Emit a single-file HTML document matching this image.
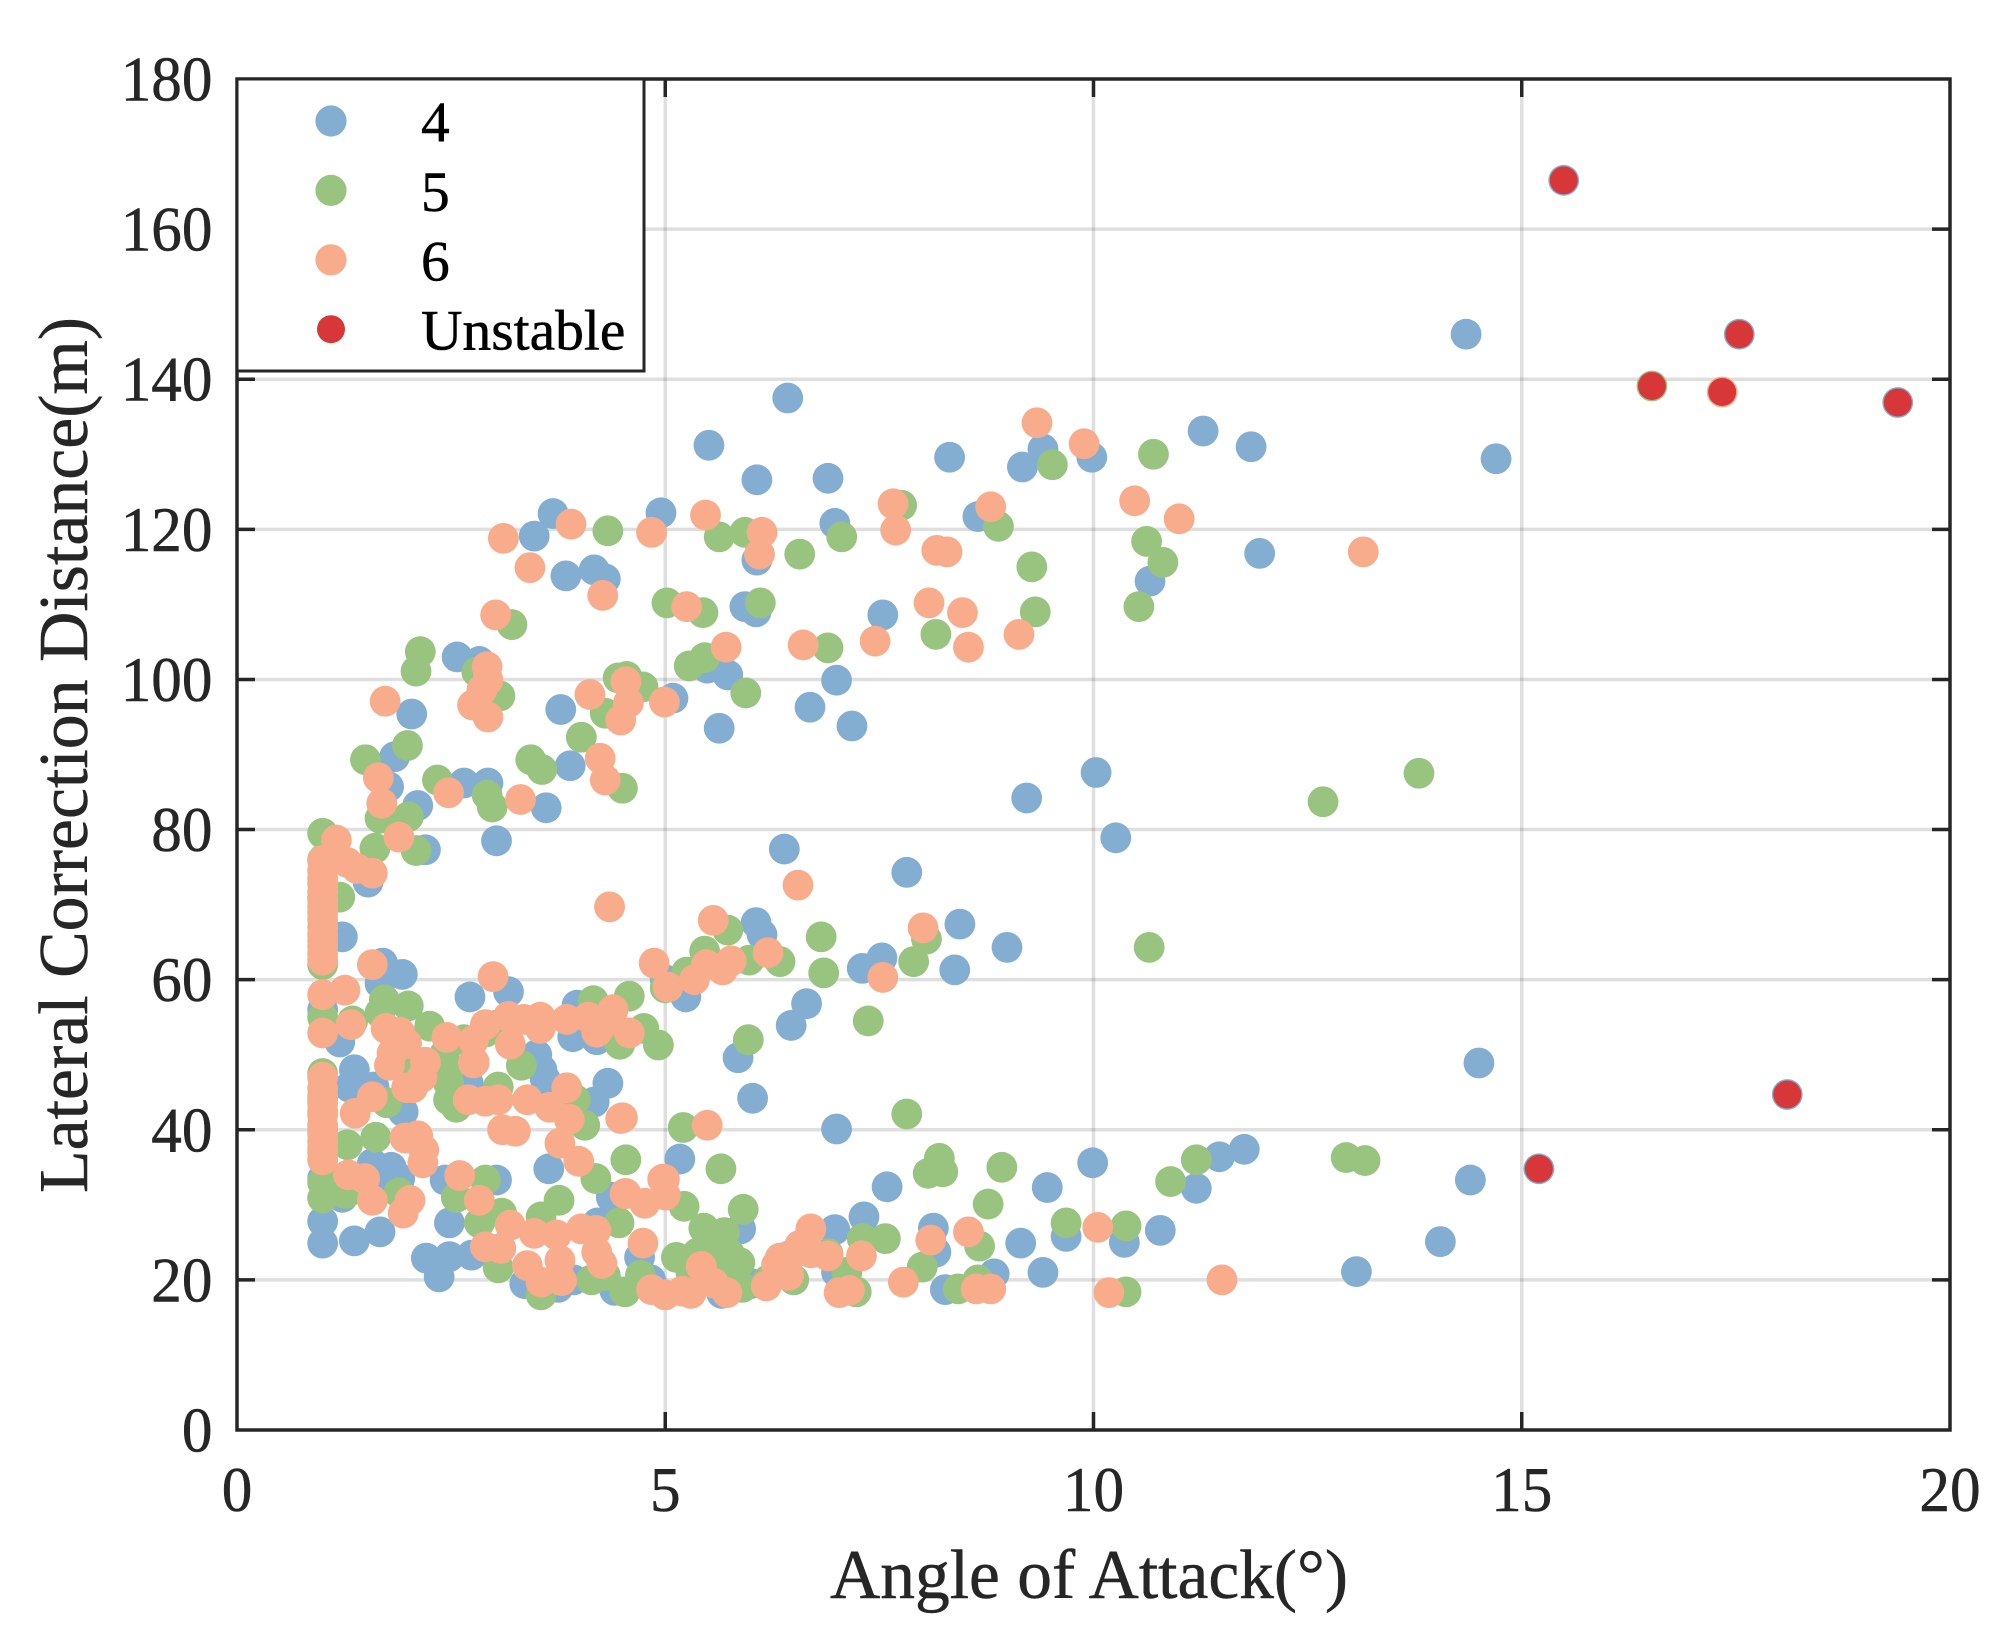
<!DOCTYPE html>
<html lang="en">
<head>
<meta charset="utf-8">
<title>Angle of Attack vs Lateral Correction Distance</title>
<style>
html,body{margin:0;padding:0;background:#fff;}
svg{display:block;}
text{font-family:"Liberation Serif","Times New Roman",serif;}
</style>
</head>
<body>
<svg id="chart" xmlns="http://www.w3.org/2000/svg" width="2006" height="1643" viewBox="0 0 2006 1643">
<rect x="0" y="0" width="2006" height="1643" fill="#ffffff"/>
<g id="grid"></g>
<g id="marks"></g>
<g id="axes"></g>
<text x="1089" y="1598" font-size="69.5" fill="#262626" stroke="#262626" stroke-width="0.5" text-anchor="middle">Angle of Attack(°)</text>
<text transform="translate(87,755) rotate(-90)" font-size="69.8" fill="#262626" stroke="#262626" stroke-width="0.5" text-anchor="middle">Lateral Correction Distance(m)</text>
<g id="legend"></g>
</svg>
<script>
const xTickLabels = [0, 5, 10, 15, 20];
const yTickLabels = [0, 20, 40, 60, 80, 100, 120, 140, 160, 180];
const legendLabels = ['4', '5', '6', 'Unstable'];

const points4 = [[6.43,137.5],[5.51,131.2],[6.07,126.6],[3.69,122.1],[3.47,119.1],[3.84,113.8],[4.17,114.6],[4.30,113.4],[4.95,122.2],[6.07,115.9],[5.93,109.7],[6.06,109],[2.57,103],[2.83,102.4],[5.09,97.5],[5.49,101.5],[5.73,100.6],[3.78,96],[2.04,95.4],[5.63,93.5],[6.69,96.3],[8.32,129.6],[9.17,128.3],[9.41,130.7],[9.98,129.6],[11.28,133.1],[11.84,131],[6.9,126.8],[6.98,120.8],[8.65,121.7],[11.94,116.8],[10.66,113.1],[7.54,108.6],[7,99.9],[7.18,93.8],[9.22,84.2],[10.03,87.6],[10.26,78.9],[6.39,77.4],[7.82,74.3],[6.06,67.6],[6.13,66],[8.44,67.4],[8.99,64.3],[7.3,61.5],[7.53,62.9],[8.38,61.3],[5.24,57.7],[5,60],[6.65,56.8],[6.47,53.9],[5.85,49.6],[6.02,44.2],[7,40.1],[5.17,36.1],[4.33,46.2],[4.17,43.7],[9.99,35.6],[7.59,32.4],[9.46,32.3],[7.32,28.4],[6.98,26.7],[8.13,26.9],[8.16,23.7],[9.15,24.9],[9.68,25.8],[10.36,25],[10.78,26.6],[9.41,21],[8.84,20.8],[8.27,18.7],[7,21],[11.47,36.4],[11.76,37.4],[11.2,32.2],[1,24.9],[1,27.8],[1.37,25.2],[1.67,26.4],[2.48,27.6],[2.21,22.9],[2.48,23.1],[2.36,20.4],[2.74,23.3],[2.43,33.3],[3.03,33.3],[1.23,31],[1.37,48],[1.31,45.7],[1.6,45.7],[1.58,35.5],[1.8,35],[1.9,33.5],[1.94,42.4],[3.64,34.8],[3.56,48],[3.6,46.7],[3.5,50],[4.37,31],[4.7,23],[5.88,26.8],[4.83,20],[4.41,18.6],[3.36,19.5],[3.75,19],[3.93,20],[4.21,27.6],[5.66,18.2],[1.84,89.7],[1.77,85.7],[2.11,83.2],[3.03,78.5],[3.61,82.9],[2.65,86.2],[2.93,86.2],[2.2,77.3],[1.53,73],[1.23,65.7],[3.89,88.5],[1.7,62.2],[1.93,60.7],[1.67,59.5],[2.72,57.7],[3.17,58.4],[3.97,56.6],[3.92,52.4],[4.2,52],[1.2,51.7],[1,56],[1,71],[14.35,146],[14.7,129.4],[14.5,48.9],[14.4,33.3],[14.05,25.1],[13.07,21.1],[15.49,166.5],[17.54,146],[19.39,136.9],[18.1,44.7],[15.2,34.8],[5.3,18.3],[6,19.5],[1,33.5],[1.75,33],[2.7,46.2]];

const points5 = [[4.33,119.8],[5.63,119],[5.93,119.6],[6.57,116.7],[5.02,110.2],[5.44,108.9],[6.11,110.2],[2.14,103.7],[2.09,101.1],[3.21,107.3],[5.28,101.8],[5.46,102.9],[5.94,98.2],[2.8,101],[3.07,97.8],[4.45,100.2],[4.55,100.4],[4.74,99],[4.3,95.5],[4.02,92.3],[1.99,91.2],[9.52,128.6],[10.7,130],[7.76,123.2],[7.06,119],[8.89,120.4],[9.28,115],[10.62,118.4],[10.81,115.6],[10.53,109.7],[9.32,109],[8.16,106],[6.9,104.2],[12.68,83.7],[13.8,87.5],[4.5,85.5],[5.73,66.6],[6.82,65.7],[8.05,65.4],[7.9,62.4],[6.34,62.4],[6.85,60.9],[5.46,63.8],[5.25,61],[5.98,62.6],[5,58.9],[4.58,57.8],[4.75,53.5],[4.92,51.3],[4.47,51.4],[5.97,52],[7.37,54.5],[5.21,40.3],[7.82,42.1],[4.54,36],[5.65,34.8],[8.2,36.2],[8.07,34.2],[8.24,34.4],[8.93,35],[8.77,30.1],[11.2,36],[10.9,33.1],[9.68,27.6],[10.38,27.2],[7.3,25.5],[7.57,25.5],[8.67,24.5],[8,21.7],[6.9,23.5],[7.12,21],[6.5,20],[8.42,18.8],[8.65,20],[7.23,18.4],[10.38,18.4],[12.95,36.3],[13.17,35.9],[10.65,64.3],[16.52,139.1],[1,47.5],[1,30.9],[1,33],[1.27,31.5],[1.29,38],[1.62,39],[1.89,31.6],[1.75,43.6],[2.56,43],[2.47,46.2],[3.05,45.7],[2.56,31],[2.9,33.3],[2.83,27.6],[3.09,28.9],[3.05,21.6],[3.55,28.4],[3.76,30.6],[4.19,33.5],[4.46,27.6],[4.14,20],[4.3,20.6],[4.53,18.4],[4.71,20.6],[3.55,18],[5.22,29.8],[5.91,29.4],[5.45,26.9],[5.69,26.3],[5.13,23],[5.38,23.6],[5.87,22.3],[5.65,21],[5.9,19],[4.06,40.6],[3.95,44],[3.32,48.6],[2.47,44],[1,79.5],[1.67,81.5],[2,81.7],[1.61,77.5],[2.09,77.2],[2.34,86.6],[1.5,89.3],[2.92,84.6],[2.98,83],[3.43,89.3],[3.56,88],[1.2,71],[1,76],[1,62],[1,44],[1,40],[1.72,57.3],[2,56.5],[1.67,55.6],[2.25,53.8],[2.65,52],[2.42,50],[2.47,48],[1.87,49],[1,55],[4.16,57.2],[2.9,53],[1.35,54.5],[3.05,54],[5.45,24],[5.55,25],[5.6,22],[5.75,23.5],[5.3,21],[6.2,20]];

const points6 = [[3.11,118.8],[3.9,120.7],[4.84,119.6],[5.47,121.9],[6.13,119.6],[6.1,116.7],[3.42,114.9],[4.27,111.2],[5.25,109.7],[3.02,108.6],[5.71,104.3],[6.61,104.6],[1.73,97.1],[2.92,101.7],[2.93,99.9],[2.86,98.6],[2.75,96.6],[2.93,95],[4.12,98],[4.54,99.7],[4.57,96.9],[4.48,94.6],[4.99,97],[9.34,134.2],[9.89,131.4],[7.66,123.4],[7.69,119.9],[8.8,123],[10.48,123.8],[11,121.4],[8.17,117.2],[8.29,117],[8.08,110.2],[8.47,108.9],[8.54,104.3],[9.13,106],[7.45,105.1],[13.15,117],[17.34,138.3],[4.24,89.5],[4.3,86.6],[1.65,86.9],[1.69,83.5],[2.47,84.9],[3.31,84],[1.89,79],[4.35,69.7],[6.55,72.6],[5.56,67.9],[8.01,66.9],[6.2,63.6],[4.87,62.2],[5.03,59],[5.34,60],[5.48,62],[5.67,61.3],[5.77,62.5],[7.54,60.3],[4.38,55.7],[4.24,53.7],[4.58,52.9],[4.5,41.6],[5.49,40.6],[4.97,33.4],[4.53,31.5],[6.7,26.8],[6.57,24.6],[6.9,23.2],[7.29,23.2],[6.44,23.2],[6.7,23.6],[6.44,20.6],[6.34,22.9],[6.34,21.9],[8.54,26.4],[8.1,25.3],[10.05,27],[7.78,19.7],[7.03,18.3],[7.15,18.6],[8.63,18.8],[8.8,18.8],[10.18,18.3],[11.5,20],[1,47],[1,45.5],[1,44.5],[1,43.5],[1,42.5],[1,42],[1,40.6],[1,39.5],[1,38.5],[1,37.5],[1,37],[1,36],[1.3,34],[1.49,33.5],[1.58,30.6],[2.02,30.6],[1.94,28.9],[1.58,44.4],[1.38,42.2],[1.78,48.6],[1.98,45.6],[2.16,47],[2.2,49],[1.96,38.9],[2.11,39.2],[2.18,37.3],[2.17,35.6],[2.77,49],[2.6,33.9],[2.83,30.6],[2.7,44],[2.9,43.8],[3.05,44],[3.39,44],[3.65,43],[3.85,45.6],[3.88,41.4],[3.1,40],[3.25,39.8],[3.77,38.2],[3.99,35.8],[4.48,41.5],[4.74,24.9],[4.54,31.5],[4.76,30.2],[4.99,33.4],[5,31.3],[3.19,27.3],[3.47,26.2],[3.73,26],[4.02,26.8],[4.19,26.6],[4.2,23.7],[4.26,22.2],[2.9,24.4],[3.08,24.2],[3.39,21.9],[3.77,22.6],[3.79,19.9],[3.55,19.7],[4.84,18.7],[5,18],[5.2,18.5],[5.42,21.8],[5.56,19.6],[5.72,18.3],[5.3,18.2],[6.18,19.2],[6.3,22],[6.45,23],[6.6,24.4],[1,71.6],[1,70.6],[1,69.7],[1,68.9],[1,68],[1,67],[1,66],[1,65.2],[1,64.4],[1,63.5],[1,62.6],[1,75.9],[1,74.5],[1,73.5],[1,72.8],[1.16,78.6],[1.29,75.6],[1.4,74.8],[1.58,74.2],[1.58,62],[2.99,60.4],[1,58],[1.26,58.6],[1,52.9],[1.33,54],[1.74,53.5],[1.9,53],[1.98,51.5],[1.81,50.2],[2.05,45.6],[2.45,52.3],[2.76,48.9],[2.76,51.9],[2.9,54],[3.19,51.4],[3.17,55.1],[3.35,54.7],[3.54,53.5],[3.54,55],[3.85,54.7],[4.1,55],[4.2,53],[4.39,56],[4.25,54.2]];

const pointsUnstable = [[15.49,166.5],[17.54,146],[16.52,139.1],[17.34,138.3],[19.39,136.9],[18.1,44.7],[15.2,34.8]];

const NS = 'http://www.w3.org/2000/svg';
const plot = {left: 237, right: 1950, top: 79, bottom: 1430};
const xMax = 20;
const yMax = 180;
function xScale(v) { return plot.left + (plot.right - plot.left) * v / xMax; }
function yScale(v) { return plot.bottom - (plot.bottom - plot.top) * v / yMax; }

function svgEl(tag, attrs, parent) {
  const el = document.createElementNS(NS, tag);
  for (const k in attrs) el.setAttribute(k, attrs[k]);
  parent.appendChild(el);
  return el;
}

const gridG = document.getElementById('grid');
const marksG = document.getElementById('marks');
const axesG = document.getElementById('axes');
const legendG = document.getElementById('legend');
const gridStyle = {stroke: 'rgba(38,38,38,0.15)', 'stroke-width': 3.5};
const axisStyle = {stroke: '#262626', 'stroke-width': 3.5};
const labelStyle = {'font-size': 64, fill: '#262626', stroke: '#262626', 'stroke-width': 0.5, lengthAdjust: 'spacingAndGlyphs'};
const digitWidth = 30.6;

xTickLabels.forEach(function (t) {
  const x = xScale(t);
  if (t > 0 && t < xMax) {
    const g = svgEl('line', Object.assign({x1: x, x2: x, y1: plot.top, y2: plot.bottom}, gridStyle), gridG);
    
    
    const t1 = svgEl('line', Object.assign({x1: x, x2: x, y1: plot.bottom, y2: plot.bottom - 18}, axisStyle), axesG);
    
    
    const t2 = svgEl('line', Object.assign({x1: x, x2: x, y1: plot.top, y2: plot.top + 18}, axisStyle), axesG);
    
    
  }
  const lab = svgEl('text', Object.assign({x: x, y: 1511, 'text-anchor': 'middle', textLength: String(t).length * digitWidth}, labelStyle), axesG);
  lab.textContent = String(t);
  
  
});

yTickLabels.forEach(function (t) {
  const y = yScale(t);
  if (t > 0 && t < yMax) {
    const g = svgEl('line', Object.assign({x1: plot.left, x2: plot.right, y1: y, y2: y}, gridStyle), gridG);
    
    
    const t1 = svgEl('line', Object.assign({x1: plot.left, x2: plot.left + 18, y1: y, y2: y}, axisStyle), axesG);
    
    
    const t2 = svgEl('line', Object.assign({x1: plot.right, x2: plot.right - 18, y1: y, y2: y}, axisStyle), axesG);
    
    
  }
  const lab = svgEl('text', Object.assign({x: 212.5, y: y + 21.5, 'text-anchor': 'end', textLength: String(t).length * digitWidth}, labelStyle), axesG);
  lab.textContent = String(t);
  
  
});

const frame = svgEl('rect', {x: plot.left, y: plot.top, width: plot.right - plot.left, height: plot.bottom - plot.top, fill: 'none', stroke: '#262626', 'stroke-width': 3.5}, axesG);



function drawSeries(points, color, radius, name) {
  const group = svgEl('g', {fill: color}, marksG);
  
  
  points.forEach(function (p) {
    const c = svgEl('circle', {cx: xScale(p[0]), cy: yScale(p[1]), r: radius}, group);
    
    
  });
}
drawSeries(points4, '#83aed1', 15.4, 'series-4');
drawSeries(points5, '#98c47f', 15.4, 'series-5');
drawSeries(points6, '#f8ac8c', 15.4, 'series-6');
drawSeries(pointsUnstable, '#d8373a', 14, 'series-unstable');

const legendBox = svgEl('rect', {x: 237, y: 79, width: 407, height: 292, fill: '#ffffff', stroke: '#262626', 'stroke-width': 3}, legendG);


const legendColors = ['#83aed1', '#98c47f', '#f8ac8c', '#d8373a'];
legendLabels.forEach(function (label, i) {
  const cy = 121 + i * 69.4;
  const dot = svgEl('circle', {cx: 331, cy: cy, r: i === 3 ? 14 : 15.6, fill: legendColors[i]}, legendG);
  
  
  const txt = svgEl('text', {x: 421, y: cy + 20.5, 'font-size': 57.5, fill: '#000000', stroke: '#000000', 'stroke-width': 0.5}, legendG);
  txt.textContent = label;
  
  
});
</script>
</body>
</html>
